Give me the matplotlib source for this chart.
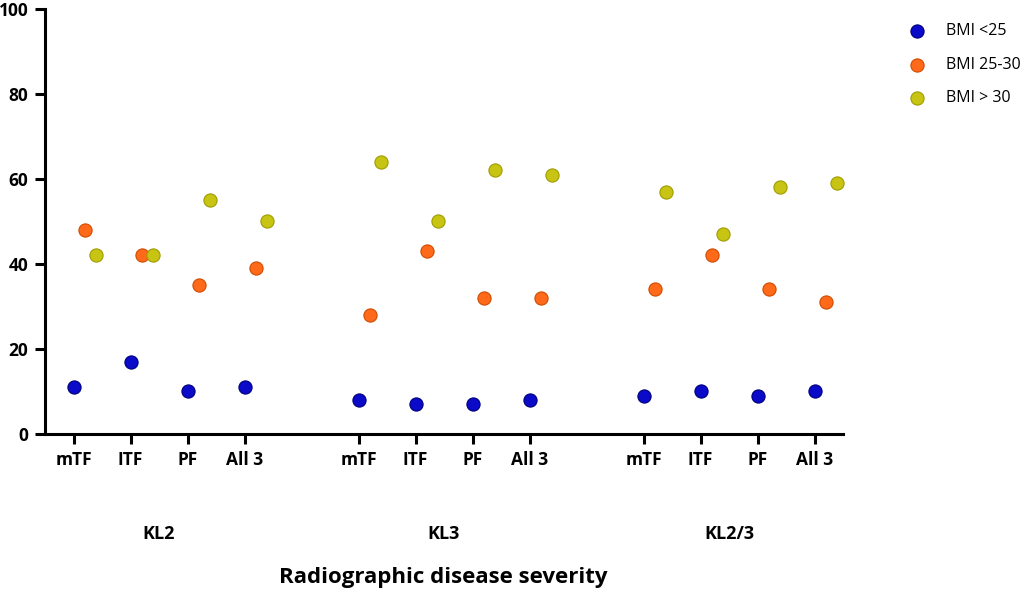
import matplotlib
matplotlib.use("Agg")
import matplotlib.pyplot as plt
import numpy as np

plt.rcParams['font.family'] = ['Open Sans', 'DejaVu Sans']

groups = ["KL2", "KL3", "KL2/3"]
sites = ["mTF", "lTF", "PF", "All 3"]
site_labels = ["mTF", "ITF", "PF", "All 3"]

bmi_low = [11, 17, 10, 11, 8, 7, 7, 8, 9, 10, 9, 10]
bmi_mid = [48, 42, 35, 39, 28, 43, 32, 32, 34, 42, 34, 31]
bmi_high = [42, 42, 55, 50, 64, 50, 62, 61, 57, 47, 58, 59]

series = [
    ("BMI <25", bmi_low, "#0a0ac8", "#00007a", 0.0),
    ("BMI 25-30", bmi_mid, "#ff6a1a", "#d04a00", 0.2),
    ("BMI > 30", bmi_high, "#c8c414", "#a09c00", 0.4),
]

# x positions: 4 sites per group, gap of one slot between groups
xpos = np.array([g * 5 + s for g in range(len(groups)) for s in range(len(sites))])

fig = plt.figure(figsize=(10.35, 5.92), dpi=100)
ax = fig.add_axes([0.0435, 0.267, 0.771, 0.718])

handles = []
for name, vals, fc, ec, off in series:
    h = ax.scatter(xpos + off, vals, s=90, color=fc, edgecolors=ec, linewidths=0.8,
                   label=name, zorder=3, clip_on=False)
    handles.append(h)

ax.set_xlim(-0.5, 13.5)
ax.set_ylim(0, 100)
ax.set_yticks([0, 20, 40, 60, 80, 100])
ax.set_xticks(xpos)
ax.set_xticklabels(site_labels * len(groups))
for s in ["top", "right"]:
    ax.spines[s].set_visible(False)
for s in ["left", "bottom"]:
    ax.spines[s].set_linewidth(2.2)
ax.tick_params(width=2.2, length=7, labelsize=12.5, pad=5)
for lab in ax.get_xticklabels() + ax.get_yticklabels():
    lab.set_fontweight("bold")

for g, name in enumerate(groups):
    center = g * 5 + 1.5
    ax.text(center, -23.5, name, ha="center", va="center", fontsize=13,
            fontweight="bold", transform=ax.transData, clip_on=False)

fig.text(443 / 1035, 1 - 577 / 592, "Radiographic disease severity", ha="center",
         va="center", fontsize=16, fontweight="bold")

fig.legend(handles=handles, loc="upper left", bbox_to_anchor=(0.857, 0.985),
           frameon=False, fontsize=11.5, handletextpad=0.8, labelspacing=1.1,
           scatterpoints=1)

fig.savefig("out.png", dpi=100)
